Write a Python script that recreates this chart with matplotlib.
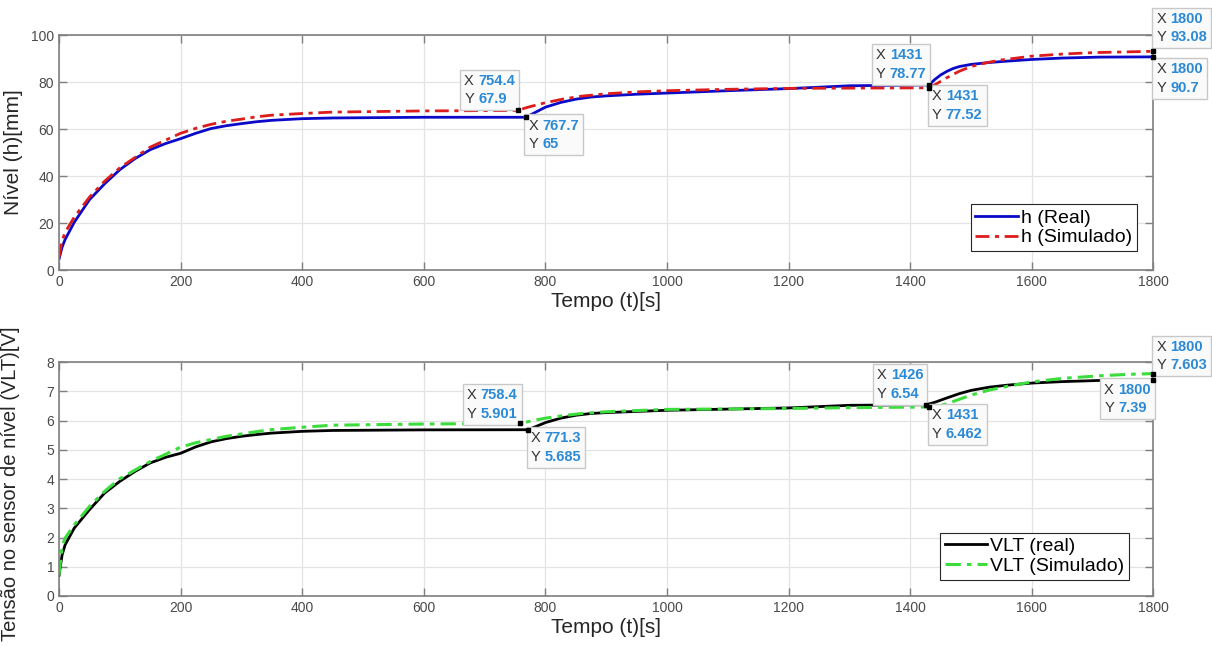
import matplotlib
matplotlib.use("Agg")
import matplotlib.pyplot as plt
from matplotlib.offsetbox import TextArea, HPacker, AnnotationBbox

plt.rcParams["font.family"] = ["Liberation Sans", "DejaVu Sans"]

# ---- data (time in s) ----
t_h_real = [0, 5, 10, 25, 50, 75, 100, 125, 150, 175, 200, 225, 250, 275, 300, 325, 350, 400, 450,
            600, 767.7, 785, 800, 825, 850, 875, 900, 950, 1000, 1100, 1200, 1300, 1431,
            1440, 1450, 1460, 1470, 1481, 1500, 1530, 1560, 1600, 1650, 1712, 1800]
h_real = [4.7, 9.7, 13, 20.3, 29.9, 36.7, 42.7, 47.4, 51.2, 53.8, 55.9, 58.2, 60.2, 61.4, 62.3, 63.1, 63.7, 64.4, 64.7,
          65, 65, 67.3, 69.3, 71.3, 72.7, 73.6, 74.1, 74.8, 75.3, 76.3, 77.2, 78.4, 78.77,
          81, 83, 84.5, 85.7, 86.6, 87.5, 88.3, 88.9, 89.6, 90.2, 90.6, 90.7]

t_h_sim = [0, 5, 10, 25, 50, 75, 100, 150, 200, 225, 250, 275, 300, 325, 350, 400, 450,
           600, 754.4, 770, 800, 830, 860, 900, 950, 1000, 1100, 1200, 1300, 1431,
           1445, 1460, 1480, 1500, 1525, 1550, 1600, 1650, 1700, 1800]
h_sim = [5.4, 12.5, 16, 22.5, 31, 37.8, 43.5, 52.3, 58.2, 60.3, 62, 63.3, 64.2, 65.2, 65.9, 66.6, 67.2,
         67.7, 67.9, 69.2, 71.2, 72.8, 74, 75, 75.8, 76.3, 76.9, 77.3, 77.4, 77.52,
         79.5, 81.8, 84.5, 86.6, 88.2, 89.4, 91, 91.9, 92.5, 93.08]

t_v_real = [0, 5, 10, 25, 50, 75, 100, 125, 150, 175, 200, 225, 250, 275, 300, 325, 350, 400, 450,
            600, 771.3, 785, 800, 825, 850, 875, 900, 1000, 1100, 1200, 1300, 1426,
            1440, 1460, 1481, 1500, 1530, 1560, 1600, 1650, 1712, 1800]
v_real = [0.7, 1.4, 1.75, 2.32, 2.95, 3.52, 3.92, 4.26, 4.55, 4.74, 4.88, 5.1, 5.27, 5.38, 5.46, 5.52, 5.57, 5.63, 5.66,
          5.68, 5.685, 5.8, 5.93, 6.08, 6.18, 6.24, 6.27, 6.35, 6.39, 6.43, 6.52, 6.54,
          6.62, 6.77, 6.92, 7.03, 7.14, 7.21, 7.28, 7.33, 7.37, 7.39]

t_v_sim = [0, 5, 10, 25, 50, 75, 100, 150, 200, 225, 250, 275, 300, 325, 350, 400, 450,
           600, 758.4, 780, 800, 830, 860, 900, 1000, 1200, 1300, 1431,
           1445, 1460, 1480, 1500, 1530, 1560, 1600, 1650, 1712, 1760, 1800]
v_sim = [0.72, 1.7, 1.98, 2.43, 3.06, 3.58, 4.01, 4.6, 5.09, 5.24, 5.35, 5.46, 5.54, 5.62, 5.69, 5.77, 5.84,
         5.88, 5.901, 6.0, 6.08, 6.17, 6.24, 6.3, 6.38, 6.41, 6.44, 6.462,
         6.5, 6.57, 6.72, 6.87, 7.04, 7.17, 7.32, 7.44, 7.53, 7.58, 7.603]

# data tips: (x, y, box alignment, offset in points)
tips_top = [
    (754.4, 67.9, (1, 0), (-2, 3)),
    (767.7, 65, (0, 1), (2, -1)),
    (1431, 78.77, (1, 0), (-2, 3)),
    (1431, 77.52, (0, 1), (2, -1)),
    (1800, 93.08, (0, 0), (2, 5)),
    (1800, 90.7, (0, 1), (2, -4)),
]
tips_bottom = [
    (758.4, 5.901, (1, 0), (-2, 2)),
    (771.3, 5.685, (0, 1), (2, -1)),
    (1426, 6.54, (1, 0), (-2, 3)),
    (1431, 6.462, (0, 1), (2, -1)),
    (1800, 7.603, (0, 0), (2, 1)),
    (1800, 7.39, (1, 1), (-2, -2)),
]

GRAY = "#7f7f7f"
TIP_BLUE = "#2b8ad6"


def fmt(v):
    return f"{v:g}"


def data_tip(ax, x, y, align, offset):
    ax.plot(x, y, "s", color="black", markersize=2.8, zorder=9, clip_on=False)
    lab = TextArea("X\nY", textprops=dict(color="#333333", fontsize=10.5, linespacing=1.4))
    val = TextArea(f"{fmt(x)}\n{fmt(y)}",
                   textprops=dict(color=TIP_BLUE, fontsize=10.5, fontweight="bold", linespacing=1.4))
    pack = HPacker(children=[lab, val], pad=0, sep=3, align="baseline")
    ab = AnnotationBbox(pack, (x, y), xybox=offset, xycoords="data",
                        boxcoords="offset points", box_alignment=align,
                        frameon=True, pad=0.45, annotation_clip=False,
                        bboxprops=dict(boxstyle="square", fc="#fafafa", ec="#c8c8c8", lw=1))
    ab.set_zorder(7)
    ax.add_artist(ab)


def style_axes(ax, ymax, ystep):
    ax.set_xlim(0, 1800)
    ax.set_ylim(0, ymax)
    ax.set_xticks(range(0, 1801, 200))
    ax.set_yticks(range(0, ymax + 1, ystep))
    ax.grid(True, color="#e3e3e3", linewidth=0.9)
    ax.set_axisbelow(True)
    ax.tick_params(direction="in", length=6, top=True, right=True,
                   colors=GRAY, labelcolor="#4a4a4a", labelsize=10, width=1)
    for s in ax.spines.values():
        s.set_color(GRAY)
        s.set_linewidth(1.2)
    ax.set_xlabel("Tempo (t)[s]", fontsize=15, color="#262626", labelpad=2)


fig = plt.figure(figsize=(12.12, 6.46), dpi=100)
ax1 = fig.add_axes([0.0487, 0.582, 0.903, 0.3638])
ax2 = fig.add_axes([0.0487, 0.0774, 0.903, 0.3622])

dashdot = (0, (5, 2, 1.5, 2))

ax1.plot(t_h_real, h_real, color="#0a0ac8", lw=2, label="h (Real)")
ax1.plot(t_h_sim, h_sim, color="#dd1c1c", lw=2, linestyle=dashdot, label="h (Simulado)")
style_axes(ax1, 100, 20)
ax1.set_ylabel("Nível (h)[mm]", fontsize=15, color="#262626", labelpad=6)
leg1 = ax1.legend(loc="lower right", bbox_to_anchor=(0.985, 0.08), fontsize=14,
                  fancybox=False, edgecolor="#262626", framealpha=1,
                  handlelength=2.2, handletextpad=0.15, borderpad=0.25,
                  labelspacing=0.1, borderaxespad=0)
leg1.get_frame().set_linewidth(0.8)
for tip in tips_top:
    data_tip(ax1, *tip)

ax2.plot(t_v_real, v_real, color="black", lw=2, label="VLT (real)")
ax2.plot(t_v_sim, v_sim, color="#3ddc3d", lw=2.2, linestyle=dashdot, label="VLT (Simulado)")
style_axes(ax2, 8, 1)
ax2.set_ylabel("Tensão no sensor de nível (VLT)[V]", fontsize=14.5, color="#262626", labelpad=6)
ax2.yaxis.set_label_coords(-0.036, 0.48)
leg2 = ax2.legend(loc="lower right", bbox_to_anchor=(0.978, 0.07), fontsize=14,
                  fancybox=False, edgecolor="#262626", framealpha=1,
                  handlelength=2.2, handletextpad=0.15, borderpad=0.25,
                  labelspacing=0.1, borderaxespad=0)
leg2.get_frame().set_linewidth(0.8)
for tip in tips_bottom:
    data_tip(ax2, *tip)

fig.savefig("out.png", dpi=100, facecolor="white")
